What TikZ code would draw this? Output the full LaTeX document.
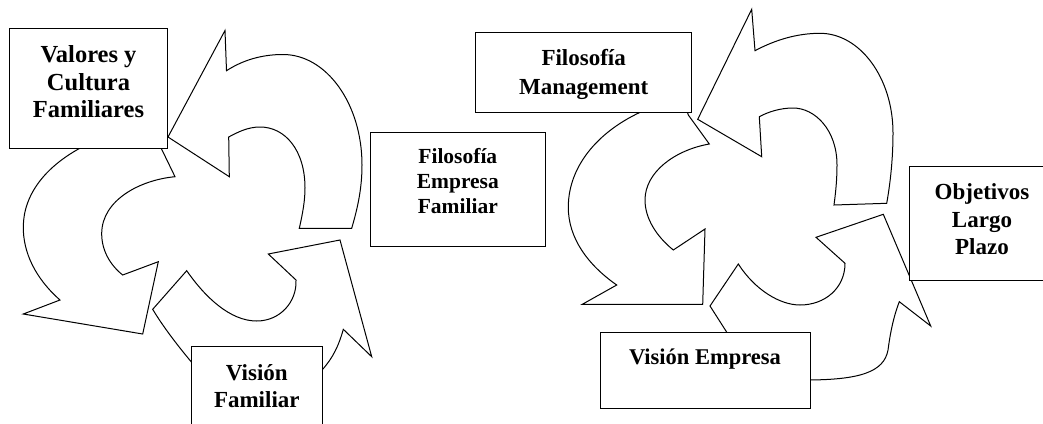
\documentclass[tikz,border=0pt]{standalone}
\usepackage{fontspec}
\setmainfont{Liberation Serif}
\tikzset{
  arr/.style={draw=black, fill=white, line width=1pt, line join=miter},
  box/.style={draw=black, fill=white, line width=1pt},
  lbl/.style={font=\bfseries\fontsize{23}{27.5}\selectfont, align=center, inner sep=0pt},
  lblbig/.style={font=\bfseries\fontsize{24.5}{27.5}\selectfont, align=center, inner sep=0pt},
  lbls/.style={font=\bfseries\fontsize{21.5}{25}\selectfont, align=center, inner sep=0pt}
}
\begin{document}
\begin{tikzpicture}[x=1pt,y=-1pt]
\useasboundingbox (0,0) rectangle (1043,423);
\clip (0,0) rectangle (1043,423);
% ---------------- left cycle ----------------
% top arrow
\draw[arr] (168,137) -- (225,30.5) -- (226.5,70.7)
  .. controls (243,60) and (262,54.5) .. (283,54.5)
  .. controls (326.6,54.5) and (362,104) .. (362,165)
  .. controls (362,190) and (357,210) .. (351.7,228.3)
  -- (299.3,228.3)
  .. controls (303,212) and (305,200) .. (305,188)
  .. controls (305,150) and (285,127) .. (260,127)
  .. controls (248,127) and (238,132) .. (228.7,137)
  -- (229.3,176.7) -- cycle;
% left arrow
\draw[arr] (160,144) -- (161.7,149.3) -- (175,176.7)
  .. controls (140,180) and (102,200) .. (101.7,233.3)
  .. controls (101.5,250) and (110,265) .. (122.7,275)
  -- (158.3,261.7) -- (142.7,334) -- (23.3,314) -- (60,300)
  .. controls (35,278) and (23,252) .. (23.3,226.7)
  .. controls (23.5,195) and (45,165) .. (88,144)
  -- cycle;
% bottom arrow
\draw[arr] (152.7,309.3) -- (186.7,270.7)
  .. controls (205,297) and (230,321) .. (256.7,321)
  .. controls (280,321) and (297,302) .. (296,280)
  -- (268.3,254) -- (340,240) -- (371.7,356.7) -- (343.3,329.3)
  .. controls (339,345) and (333,358) .. (322,370)
  -- (260,395) -- (200,372)
  .. controls (185,355) and (165,330) .. (152.7,309.3)
  -- cycle;
% ---------------- right cycle ----------------
% top arrow
\draw[arr] (697.7,119.3) -- (751.7,9.3) -- (755,50.7)
  .. controls (775,40) and (797,33.3) .. (820,33.3)
  .. controls (860,33.3) and (893,78) .. (893,133)
  .. controls (893,160) and (890,185) .. (886.7,203.3)
  -- (834,205)
  .. controls (836,190) and (837,178) .. (837,165)
  .. controls (837,130) and (815,108) .. (793,108)
  .. controls (780,108) and (768,112) .. (759.3,116.7)
  -- (761.7,156.7) -- cycle;
% left arrow
\draw[arr] (686,108) -- (688.3,115) -- (709.3,144)
  .. controls (675,150) and (645,172) .. (645,200)
  .. controls (645,218) and (656,236) .. (673.3,250)
  -- (705,229) -- (702.7,304.3) -- (582.3,304.3) -- (616.7,285)
  .. controls (588,265) and (568,238) .. (568.3,206.7)
  .. controls (568.5,165) and (600,128) .. (650,108)
  -- cycle;
% bottom arrow
\draw[arr] (710,306) -- (738.3,264)
  .. controls (755,290) and (780,305) .. (800,305)
  .. controls (825,305) and (845,288) .. (845,263.3)
  -- (816,237.3) -- (883.3,214.3) -- (930.7,326) -- (899.3,301.7)
  .. controls (893,318) and (890,335) .. (888,350)
  .. controls (884,372) and (860,380) .. (805,380)
  -- (760,370) -- (733,342) -- (710,306)
  -- cycle;
% ---------------- boxes ----------------
\draw[box] (9.3,28.3) rectangle (167.7,148.3);
\node[lblbig] (valores) at (88.5,82) {Valores y\\Cultura\\Familiares};
\draw[box] (191,346.7) rectangle (322.7,440);
\node[lbl] (visfam) at (256.8,386) {Visión\\Familiar};
\draw[box] (370.7,132.3) rectangle (545,246);
\node[lbls] (filemp) at (457.8,181) {Filosofía\\Empresa\\Familiar};
\draw[box] (475.7,32.7) rectangle (691.7,112.7);
\node[lbl,font=\bfseries\fontsize{23}{29}\selectfont] (filman) at (583.7,74) {Filosofía\\Management};
\draw[box] (909.3,166) rectangle (1060,280.7);
\node[lbl] (objet) at (982,219.5) {Objetivos\\Largo\\Plazo};
\draw[box] (600,332.3) rectangle (810,408.3);
\node[lbl,font=\bfseries\fontsize{22.5}{27}\selectfont] (visemp) at (705,359) {Visión Empresa};
\end{tikzpicture}
\end{document}
